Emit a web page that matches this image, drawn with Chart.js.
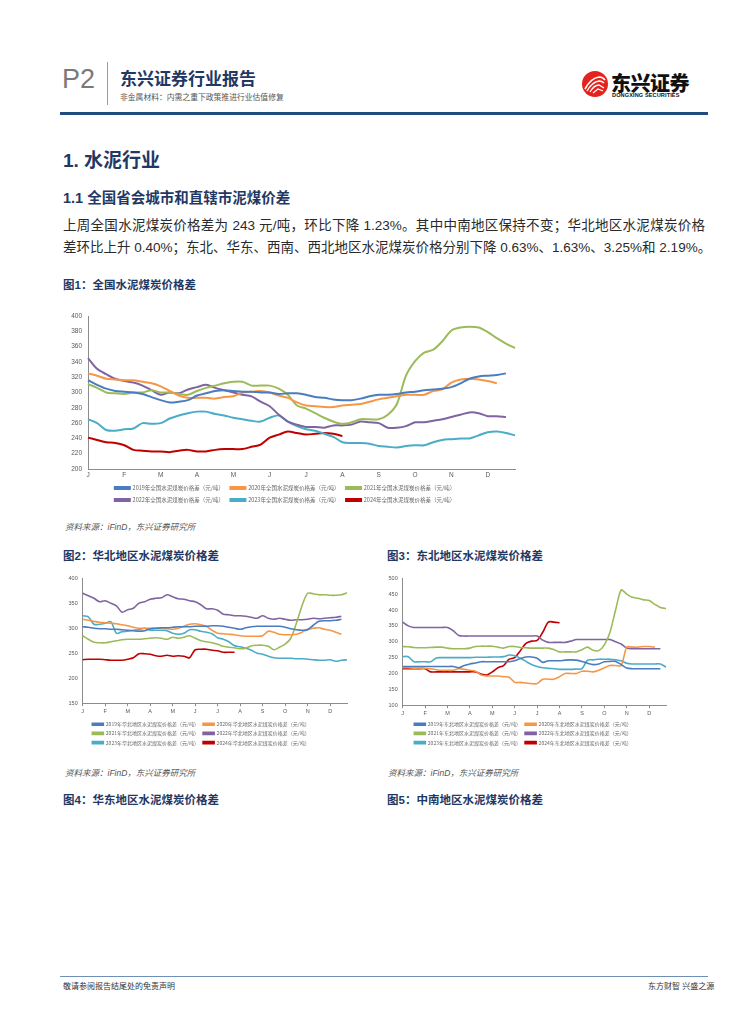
<!DOCTYPE html>
<html><head><meta charset="utf-8">
<script src="https://cdn.jsdelivr.net/npm/chart.js@4.4.1/dist/chart.umd.min.js"></script>
<style>
html,body{margin:0;padding:0;background:#fff;}
body{width:755px;height:1024px;position:relative;overflow:hidden;font-family:"Liberation Sans","Noto Sans CJK SC",sans-serif;}
.abs{position:absolute;white-space:nowrap;}
.navy{color:#1f3864;font-weight:bold;}
.fig{font-size:11.5px;font-family:"Liberation Sans","Noto Sans CJK SC";}
.src{font-size:8.5px;color:#555;font-style:italic;}
.para{left:63px;width:642px;font-size:13.5px;color:#2a2a2a;text-align:justify;text-align-last:justify;line-height:18px;}
.box{position:absolute;}
.box canvas{display:block;}
</style></head>
<body>
<!-- header -->
<div class="abs" style="left:62px;top:64px;font-size:27px;color:#7a7a7a;">P2</div>
<div class="abs" style="left:107px;top:62px;width:1px;height:43px;background:#9a9a9a;"></div>
<div class="abs navy" style="left:120px;top:65px;font-size:17px;">东兴证券行业报告</div>
<div class="abs" style="left:120px;top:91px;font-size:7.8px;color:#555;">非金属材料：内需之重下政策推进行业估值修复</div>
<svg class="abs" style="left:581px;top:70px;" width="28" height="28" viewBox="0 0 28 28">
  <circle cx="14" cy="14" r="13" fill="#e3231c"/>
  <path d="M4 19 Q10 8 18 7 Q22 7 24 10" stroke="#fff" stroke-width="1.6" fill="none"/>
  <path d="M6 21 Q11 12 18 11 Q21 11 23 13" stroke="#fff" stroke-width="1.4" fill="none"/>
  <path d="M9 22 Q13 15 18 15 L23 18" stroke="#fff" stroke-width="1.3" fill="none"/>
  <path d="M12 23 L17 19 L22 21" stroke="#fff" stroke-width="1.2" fill="none"/>
</svg>
<div class="abs" style="left:611px;top:68px;font-size:20px;font-weight:900;color:#111;font-family:'Noto Sans CJK SC';letter-spacing:-0.5px;">东兴证券</div>
<div class="abs" style="left:612px;top:92px;font-size:5.6px;font-weight:bold;color:#111;letter-spacing:0.1px;">DONGXING SECURITIES</div>
<div class="abs" style="left:60px;top:112px;width:648px;height:3px;background:#1f4e7e;"></div>

<div class="abs navy" style="left:63px;top:145px;font-size:19px;">1. 水泥行业</div>
<div class="abs navy" style="left:63px;top:186px;font-size:14.5px;">1.1 全国省会城市和直辖市泥煤价差</div>
<div class="abs para" style="top:217px;">上周全国水泥煤炭价格差为 243 元/吨，环比下降 1.23%。其中中南地区保持不变；华北地区水泥煤炭价格</div>
<div class="abs para" style="top:239px;">差环比上升 0.40%；东北、华东、西南、西北地区水泥煤炭价格分别下降 0.63%、1.63%、3.25%和 2.19%。</div>

<div class="abs navy fig" style="left:63px;top:276px;">图1：全国水泥煤炭价格差</div>
<div class="box" style="left:55px;top:305px;width:470px;height:210px;"><canvas id="c1"></canvas></div>
<div class="abs src" style="left:65px;top:520px;">资料来源：iFinD，东兴证券研究所</div>

<div class="abs navy fig" style="left:63px;top:547px;">图2：华北地区水泥煤炭价格差</div>
<div class="abs navy fig" style="left:387px;top:547px;">图3：东北地区水泥煤炭价格差</div>
<div class="box" style="left:55px;top:570px;width:310px;height:184px;"><canvas id="c2"></canvas></div>
<div class="box" style="left:380px;top:570px;width:310px;height:184px;"><canvas id="c3"></canvas></div>
<div class="abs src" style="left:65px;top:766px;">资料来源：iFinD，东兴证券研究所</div>
<div class="abs src" style="left:388px;top:766px;">资料来源：iFinD，东兴证券研究所</div>
<div class="abs navy fig" style="left:63px;top:791px;">图4：华东地区水泥煤炭价格差</div>
<div class="abs navy fig" style="left:387px;top:791px;">图5：中南地区水泥煤炭价格差</div>

<div class="abs" style="left:60px;top:976px;width:648px;height:1px;background:#6f8fb5;"></div>
<div class="abs" style="left:63px;top:980px;font-size:8px;color:#333;">敬请参阅报告结尾处的免责声明</div>
<div class="abs" style="left:648px;top:980px;font-size:8px;color:#333;">东方财智 兴盛之源</div>

<script>
// ---- tick labels ----
const months = ['J','F','M','A','M','J','J','A','S','O','N','D'];
const weekLabels = months.flatMap(m => [m, '', '', '']);
const years = ['2019','2020','2021','2022','2023','2024'];
const colors = ['#4a7dc0','#f79646','#9bbb59','#8064a2','#4bacc6','#c00000'];

// ---- 全国 ----
const nat2019 = [316,310,305,302,301,300,298,294,290,287,288,290,296,299,302,303,302,301,301,300,300,298,299,299,297,294,293,291,290,290,292,295,297,297,298,300,301,303,304,305,307,312,318,321,322,323,325];
const nat2020 = [325,322,318,317,316,316,314,312,308,302,296,293,293,293,292,294,295,300,301,302,300,296,293,287,283,282,281,281,283,284,285,288,291,293,295,297,297,297,302,304,313,317,318,317,315,312];
const nat2021 = [311,306,300,299,298,300,300,303,300,300,298,297,302,306,309,312,314,314,309,309,309,305,297,283,279,273,267,262,259,261,265,265,265,271,285,322,341,352,356,367,381,385,386,385,379,371,364,358];
const nat2022 = [345,331,324,318,315,313,309,303,297,300,299,304,307,310,306,303,300,297,295,288,282,271,262,258,255,255,254,257,257,258,262,261,260,254,254,256,261,261,263,265,268,271,274,273,269,269,268];
const nat2023 = [265,260,251,250,252,253,260,259,260,266,270,273,275,275,272,270,267,265,263,262,267,270,262,256,252,250,246,242,235,234,234,233,230,229,228,230,231,231,235,238,239,240,240,244,248,249,247,244];
const nat2024 = [241,238,235,234,231,225,224,223,223,222,224,225,223,223,225,226,226,226,229,232,241,245,249,247,245,246,247,246,243];

// ---- 华北 ----
const hb2019 = [303,302,300,299,299,298,298,297,296,295,294,295,299,300,301,301,302,303,303,303,304,304,304,305,305,304,302,300,298,301,303,304,304,304,304,304,302,299,297,296,297,306,314,315,315,316,318];
const hb2020 = [318,316,314,312,311,310,309,307,305,302,300,300,300,300,300,299,298,300,304,308,309,307,304,296,290,289,288,287,285,284,284,284,285,294,292,288,287,287,288,292,298,300,301,298,296,292,288];
const hb2021 = [285,278,272,271,271,273,275,277,278,278,278,279,280,281,280,278,282,280,282,285,280,275,273,271,268,264,262,261,259,260,265,266,266,264,257,262,268,280,310,345,370,369,367,367,366,366,367,371];
const hb2022 = [370,365,360,353,355,350,345,332,337,340,350,353,358,360,361,367,363,359,358,355,353,347,339,339,336,328,327,325,325,324,322,320,325,320,318,320,318,316,317,317,318,320,319,320,321,322,324];
const hb2023 = [325,323,308,308,310,313,290,293,294,296,297,300,296,296,296,295,290,288,290,297,297,294,292,289,281,278,273,265,263,260,256,250,248,244,241,240,240,240,239,239,238,237,236,236,237,234,236,237];
const hb2024 = [237,238,238,238,237,236,236,236,238,241,249,249,248,245,244,246,244,245,244,241,257,258,258,256,255,252,252,252];

// ---- 东北 ----
const db2019 = [222,222,222,222,222,222,222,222,222,222,218,225,230,233,237,237,237,237,237,237,240,247,252,252,248,235,240,240,240,242,243,242,238,232,228,230,237,238,238,228,217,215,215,215,215,215,215];
const db2020 = [218,218,217,217,216,215,212,210,210,210,215,213,210,207,195,192,192,192,190,188,172,172,170,168,168,182,182,182,190,200,200,200,207,207,205,210,218,225,225,225,283,283,283,285,285,283];
const db2021 = [285,284,282,281,281,282,283,283,280,278,278,278,280,285,286,286,286,283,280,285,285,282,281,280,280,280,280,275,268,268,268,268,275,283,273,272,290,330,400,463,450,440,437,432,430,418,408,405];
const db2022 = [362,350,345,345,345,345,345,345,345,335,320,318,318,318,318,318,318,318,318,318,318,318,318,318,318,305,298,298,298,298,302,307,307,307,307,307,307,307,300,293,280,278,278,278,278,278,278];
const db2023 = [253,253,237,237,237,237,249,250,250,250,250,250,250,251,251,251,252,252,253,258,256,248,238,228,222,218,216,215,213,213,213,214,215,242,243,245,245,245,243,240,232,230,230,230,230,230,230,220];
const db2024 = [215,215,215,215,215,205,205,205,205,205,205,205,205,205,198,195,205,218,225,245,250,272,295,302,304,330,362,362,360];

const fixedLegend = {
  id: 'fixedLegend',
  beforeLayout(chart, args, opts) {
    const l = chart.legend;
    if (l && !l._fixedH) {
      const orig = l.fit;
      l.fit = function () { orig.call(this); this.height = opts.height; };
      l._fixedH = true;
    }
  }
};

function build(id, region, series, c) {
  const datasets = series.map((d, k) => ({
    label: years[k] + '年' + region + '水泥煤炭价格差（元/吨）',
    data: d,
    borderColor: colors[k],
    backgroundColor: colors[k],
    borderWidth: c.lw,
    pointRadius: 0,
    tension: 0.3,
    fill: false
  }));
  return new Chart(document.getElementById(id), {
    type: 'line',
    data: { labels: weekLabels, datasets },
    plugins: [fixedLegend],
    options: {
      responsive: true,
      maintainAspectRatio: false,
      animation: false,
      events: [],
      layout: { padding: { left: 0, right: c.padRight, top: c.padTop, bottom: 0 } },
      plugins: {
        tooltip: { enabled: false },
        fixedLegend: { height: c.legendH },
        legend: {
          position: 'bottom',
          labels: {
            boxWidth: c.boxW, boxHeight: 2,
            font: { size: c.legendFont, family: 'Noto Sans CJK SC' },
            color: '#666',
            padding: c.legendPad
          }
        }
      },
      scales: {
        x: {
          type: 'category',
          offset: false,
          grid: { display: c.ticks, drawOnChartArea: false, drawTicks: c.ticks, tickLength: 3, color: '#8c8c8c' },
          border: { display: true, color: '#8c8c8c', width: 1 },
          ticks: {
            autoSkip: false, maxRotation: 0, padding: c.xPad,
            font: { size: c.tickFont, family: 'Liberation Sans' }, color: '#595959',
            callback: (v, i) => weekLabels[i] || null
          },
          afterFit: s => { s.height = c.xH; }
        },
        y: {
          min: c.yMin, max: c.yMax,
          grid: { display: false, drawTicks: false },
          border: { display: true, color: '#8c8c8c', width: 1 },
          ticks: { stepSize: c.yStep, padding: c.yPad, font: { size: c.tickFont, family: 'Liberation Sans' }, color: '#595959' },
          afterFit: s => { s.width = c.yW; }
        }
      }
    }
  });
}

build('c1', '全国', [nat2019, nat2020, nat2021, nat2022, nat2023, nat2024], {
  lw: 2, padRight: 10, padTop: 11, legendH: 36.25, boxW: 15, legendFont: 5.5, legendPad: 6.5,
  ticks: false, xPad: 2, tickFont: 6.5, xH: 9.75, yMin: 200, yMax: 400, yStep: 20, yPad: 6, yW: 33
});
build('c2', '华北地区', [hb2019, hb2020, hb2021, hb2022, hb2023, hb2024], {
  lw: 1.6, padRight: 18, padTop: 6, legendH: 36.5, boxW: 11, legendFont: 5, legendPad: 4.2,
  ticks: true, xPad: 1.5, tickFont: 5.5, xH: 14.3, yMin: 150, yMax: 400, yStep: 50, yPad: 5, yW: 27.7
});
build('c3', '东北地区', [db2019, db2020, db2021, db2022, db2023, db2024], {
  lw: 1.6, padRight: 24, padTop: 8, legendH: 36.5, boxW: 11, legendFont: 5, legendPad: 4.2,
  ticks: true, xPad: 1.5, tickFont: 5.5, xH: 12.3, yMin: 100, yMax: 500, yStep: 50, yPad: 5, yW: 22.7
});
</script>
</body></html>
